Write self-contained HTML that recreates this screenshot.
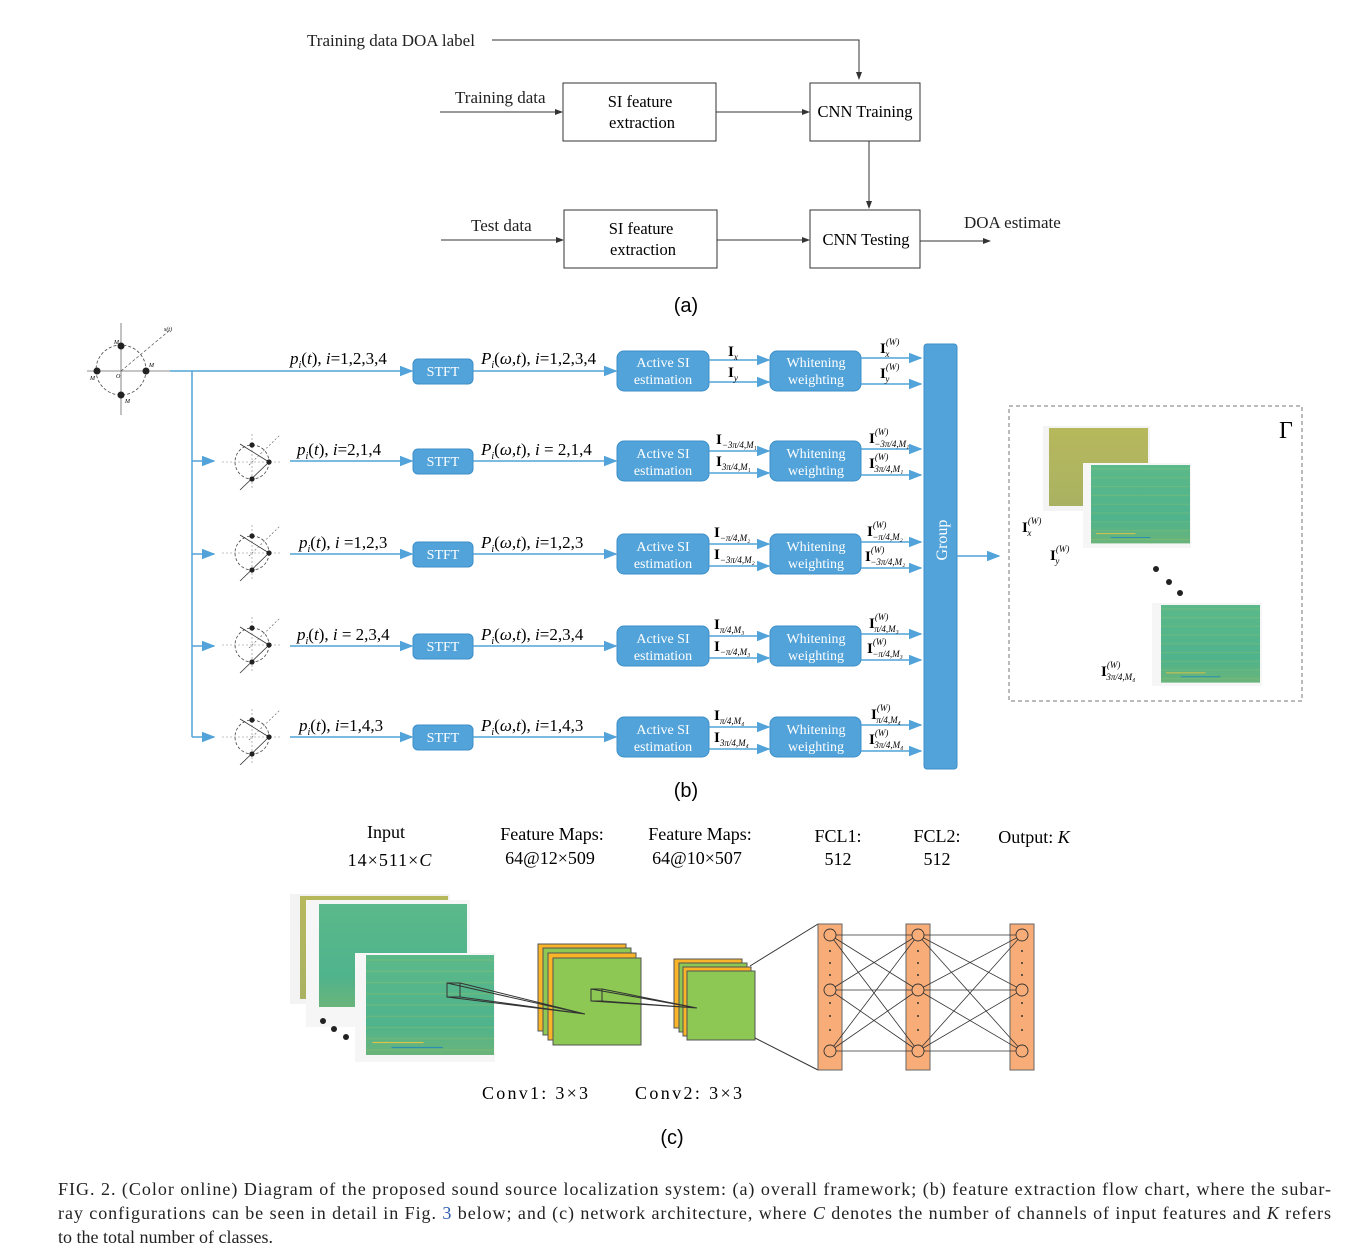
<!DOCTYPE html>
<html><head><meta charset="utf-8"><style>
body{margin:0;background:#fff}
svg{display:block;font-family:"Liberation Serif",serif}
.b{fill:#52a3d9;stroke:#3d8fc9;stroke-width:1}
.bt{fill:#fff;font-size:14px;text-anchor:middle}
.bl{stroke:#52a3d9;stroke-width:1.5;fill:none}
.k{stroke:#333;stroke-width:1;fill:none}
.it{font-style:italic}
</style></head><body>
<svg width="1361" height="1258" viewBox="0 0 1361 1258" xmlns="http://www.w3.org/2000/svg">
<defs>
<marker id="ak" markerWidth="8" markerHeight="6" refX="7" refY="3" orient="auto"><path d="M0,0L8,3L0,6z" fill="#333"/></marker>
<marker id="ab" markerWidth="9" markerHeight="7" refX="8" refY="3.5" orient="auto"><path d="M0,0L9,3.5L0,7z" fill="#52a3d9"/></marker>
<linearGradient id="gg" x1="0" y1="0" x2="0" y2="1"><stop offset="0" stop-color="#5bb98a"/><stop offset="0.7" stop-color="#4fb38c"/><stop offset="1" stop-color="#6ab47a"/></linearGradient>
<linearGradient id="gy" x1="0" y1="0" x2="0" y2="1"><stop offset="0" stop-color="#b7b85c"/><stop offset="1" stop-color="#a9b262"/></linearGradient>
<pattern id="st" width="6" height="9" patternUnits="userSpaceOnUse"><line x1="0" y1="4" x2="6" y2="4" stroke="#8fc06a" stroke-width="0.8" opacity="0.5"/></pattern>
<g id="arr">
<circle cx="0" cy="0" r="17" fill="none" stroke="#444" stroke-width="0.8" stroke-dasharray="3,2"/>
<line x1="-30" y1="0" x2="30" y2="0" stroke="#888" stroke-width="0.6" stroke-dasharray="2,2"/>
<line x1="0" y1="-28" x2="0" y2="28" stroke="#888" stroke-width="0.6" stroke-dasharray="2,2"/>
<line x1="-12" y1="-18" x2="17" y2="0" stroke="#333" stroke-width="0.8"/>
<line x1="17" y1="0" x2="-12" y2="28" stroke="#333" stroke-width="0.8"/>
<line x1="-3" y1="3" x2="28" y2="-27" stroke="#555" stroke-width="0.6" stroke-dasharray="2,2"/>
<circle cx="0" cy="-17" r="2.6" fill="#222"/><circle cx="17" cy="0" r="2.6" fill="#222"/><circle cx="0" cy="17" r="2.6" fill="#222"/>
</g>
<g id="spec">
<rect x="0" y="0" width="100" height="80" fill="url(#gg)"/>
<rect x="0" y="0" width="100" height="80" fill="url(#st)"/>
<line x1="5" y1="70" x2="45" y2="70" stroke="#d8c24a" stroke-width="1"/>
<line x1="20" y1="74" x2="60" y2="74" stroke="#2a8fb0" stroke-width="1"/>
</g>
</defs>

<!-- (a) -->
<g font-size="17" fill="#222">
<text x="307" y="46">Training data DOA label</text>
<text x="455" y="103">Training data</text>
<text x="471" y="231">Test data</text>
<text x="964" y="228">DOA estimate</text>
</g>
<path class="k" d="M492,40H859V79" marker-end="url(#ak)"/>
<rect x="563" y="83" width="153" height="58" fill="#fff" stroke="#333"/>
<text x="640" y="107" font-size="16.5" text-anchor="middle">SI feature</text>
<text x="642" y="128" font-size="16.5" text-anchor="middle">extraction</text>
<rect x="810" y="83" width="110" height="58" fill="#fff" stroke="#333"/>
<text x="865" y="117" font-size="16.5" text-anchor="middle">CNN Training</text>
<line class="k" x1="440" y1="112" x2="562" y2="112" marker-end="url(#ak)"/>
<line class="k" x1="716" y1="112" x2="809" y2="112" marker-end="url(#ak)"/>
<line class="k" x1="869" y1="141" x2="869" y2="208" marker-end="url(#ak)"/>
<rect x="564" y="210" width="153" height="58" fill="#fff" stroke="#333"/>
<text x="641" y="234" font-size="16.5" text-anchor="middle">SI feature</text>
<text x="643" y="255" font-size="16.5" text-anchor="middle">extraction</text>
<rect x="810" y="210" width="110" height="58" fill="#fff" stroke="#333"/>
<text x="866" y="245" font-size="16.5" text-anchor="middle">CNN Testing</text>
<line class="k" x1="441" y1="240" x2="563" y2="240" marker-end="url(#ak)"/>
<line class="k" x1="717" y1="240" x2="809" y2="240" marker-end="url(#ak)"/>
<line class="k" x1="920" y1="241" x2="990" y2="241" marker-end="url(#ak)"/>
<text x="686" y="312" font-size="20" font-family="Liberation Sans,sans-serif" text-anchor="middle">(a)</text>

<!-- (b) left array big -->
<g>
<circle cx="121" cy="370" r="25" fill="none" stroke="#444" stroke-width="0.8" stroke-dasharray="3,2"/>
<line x1="87" y1="371" x2="170" y2="371" stroke="#666" stroke-width="0.8"/>
<line x1="121" y1="323" x2="121" y2="415" stroke="#666" stroke-width="0.8"/>
<line x1="121" y1="371" x2="170" y2="330" stroke="#555" stroke-width="0.7" stroke-dasharray="3,2"/>
<circle cx="121" cy="346" r="3.5" fill="#222"/><circle cx="146" cy="371" r="3.5" fill="#222"/><circle cx="121" cy="395" r="3.5" fill="#222"/><circle cx="97" cy="371" r="3.5" fill="#222"/>
<text x="164" y="331" font-size="6" class="it">s(t)</text>
<text x="149" y="367" font-size="6" class="it">M</text>
<text x="114" y="344" font-size="6" class="it">M</text>
<text x="90" y="380" font-size="6" class="it">M</text>
<text x="125" y="403" font-size="6" class="it">M</text>
<text x="116" y="378" font-size="6" class="it">O</text>
</g>
<line class="bl" x1="170" y1="371" x2="412" y2="371" marker-end="url(#ab)"/>
<line class="bl" x1="192" y1="371" x2="192" y2="737"/>
<g>
<line class="bl" x1="192" y1="461" x2="214" y2="461" marker-end="url(#ab)"/>
<line class="bl" x1="192" y1="554" x2="214" y2="554" marker-end="url(#ab)"/>
<line class="bl" x1="192" y1="646" x2="214" y2="646" marker-end="url(#ab)"/>
<line class="bl" x1="192" y1="737" x2="214" y2="737" marker-end="url(#ab)"/>
</g>
<use href="#arr" x="252" y="462"/>
<use href="#arr" x="252" y="553"/>
<use href="#arr" x="252" y="645"/>
<use href="#arr" x="252" y="737"/>
<line class="bl" x1="290" y1="461" x2="412" y2="461" marker-end="url(#ab)"/>
<line class="bl" x1="290" y1="554" x2="412" y2="554" marker-end="url(#ab)"/>
<line class="bl" x1="290" y1="646" x2="412" y2="646" marker-end="url(#ab)"/>
<line class="bl" x1="290" y1="737" x2="412" y2="737" marker-end="url(#ab)"/>

<g font-size="17">
<text x="290" y="364"><tspan class="it">p</tspan><tspan font-size="10" dy="4" class="it">i</tspan><tspan dy="-4">(</tspan><tspan class="it">t</tspan>), <tspan class="it">i</tspan>=1,2,3,4</text>
<text x="297" y="455"><tspan class="it">p</tspan><tspan font-size="10" dy="4" class="it">i</tspan><tspan dy="-4">(</tspan><tspan class="it">t</tspan>), <tspan class="it">i</tspan>=2,1,4</text>
<text x="299" y="548"><tspan class="it">p</tspan><tspan font-size="10" dy="4" class="it">i</tspan><tspan dy="-4">(</tspan><tspan class="it">t</tspan>), <tspan class="it">i</tspan> =1,2,3</text>
<text x="297" y="640"><tspan class="it">p</tspan><tspan font-size="10" dy="4" class="it">i</tspan><tspan dy="-4">(</tspan><tspan class="it">t</tspan>), <tspan class="it">i</tspan> = 2,3,4</text>
<text x="299" y="731"><tspan class="it">p</tspan><tspan font-size="10" dy="4" class="it">i</tspan><tspan dy="-4">(</tspan><tspan class="it">t</tspan>), <tspan class="it">i</tspan>=1,4,3</text>
<text x="481" y="364"><tspan class="it">P</tspan><tspan font-size="10" dy="4" class="it">i</tspan><tspan dy="-4">(</tspan><tspan class="it">ω</tspan>,<tspan class="it">t</tspan>), <tspan class="it">i</tspan>=1,2,3,4</text>
<text x="481" y="455"><tspan class="it">P</tspan><tspan font-size="10" dy="4" class="it">i</tspan><tspan dy="-4">(</tspan><tspan class="it">ω</tspan>,<tspan class="it">t</tspan>), <tspan class="it">i</tspan> = 2,1,4</text>
<text x="481" y="548"><tspan class="it">P</tspan><tspan font-size="10" dy="4" class="it">i</tspan><tspan dy="-4">(</tspan><tspan class="it">ω</tspan>,<tspan class="it">t</tspan>), <tspan class="it">i</tspan>=1,2,3</text>
<text x="481" y="640"><tspan class="it">P</tspan><tspan font-size="10" dy="4" class="it">i</tspan><tspan dy="-4">(</tspan><tspan class="it">ω</tspan>,<tspan class="it">t</tspan>), <tspan class="it">i</tspan>=2,3,4</text>
<text x="481" y="731"><tspan class="it">P</tspan><tspan font-size="10" dy="4" class="it">i</tspan><tspan dy="-4">(</tspan><tspan class="it">ω</tspan>,<tspan class="it">t</tspan>), <tspan class="it">i</tspan>=1,4,3</text>
</g>

<g>
<rect class="b" x="413" y="359" width="60" height="25" rx="5"/><text class="bt" x="443" y="376">STFT</text>
<rect class="b" x="413" y="449" width="60" height="25" rx="5"/><text class="bt" x="443" y="466">STFT</text>
<rect class="b" x="413" y="542" width="60" height="25" rx="5"/><text class="bt" x="443" y="559">STFT</text>
<rect class="b" x="413" y="634" width="60" height="25" rx="5"/><text class="bt" x="443" y="651">STFT</text>
<rect class="b" x="413" y="725" width="60" height="25" rx="5"/><text class="bt" x="443" y="742">STFT</text>
</g>
<g>
<line class="bl" x1="473" y1="371" x2="616" y2="371" marker-end="url(#ab)"/>
<line class="bl" x1="473" y1="461" x2="616" y2="461" marker-end="url(#ab)"/>
<line class="bl" x1="473" y1="554" x2="616" y2="554" marker-end="url(#ab)"/>
<line class="bl" x1="473" y1="646" x2="616" y2="646" marker-end="url(#ab)"/>
<line class="bl" x1="473" y1="737" x2="616" y2="737" marker-end="url(#ab)"/>
</g>
<g>
<rect class="b" x="617" y="351" width="92" height="40" rx="7"/><text class="bt" x="663" y="367">Active SI</text><text class="bt" x="663" y="384">estimation</text>
<rect class="b" x="617" y="441" width="92" height="40" rx="7"/><text class="bt" x="663" y="458">Active SI</text><text class="bt" x="663" y="475">estimation</text>
<rect class="b" x="617" y="534" width="92" height="40" rx="7"/><text class="bt" x="663" y="551">Active SI</text><text class="bt" x="663" y="568">estimation</text>
<rect class="b" x="617" y="626" width="92" height="40" rx="7"/><text class="bt" x="663" y="643">Active SI</text><text class="bt" x="663" y="660">estimation</text>
<rect class="b" x="617" y="717" width="92" height="40" rx="7"/><text class="bt" x="663" y="734">Active SI</text><text class="bt" x="663" y="751">estimation</text>
<rect class="b" x="770" y="351" width="91" height="40" rx="7"/><text class="bt" x="816" y="367">Whitening</text><text class="bt" x="816" y="384">weighting</text>
<rect class="b" x="770" y="441" width="91" height="40" rx="7"/><text class="bt" x="816" y="458">Whitening</text><text class="bt" x="816" y="475">weighting</text>
<rect class="b" x="770" y="534" width="91" height="40" rx="7"/><text class="bt" x="816" y="551">Whitening</text><text class="bt" x="816" y="568">weighting</text>
<rect class="b" x="770" y="626" width="91" height="40" rx="7"/><text class="bt" x="816" y="643">Whitening</text><text class="bt" x="816" y="660">weighting</text>
<rect class="b" x="770" y="717" width="91" height="40" rx="7"/><text class="bt" x="816" y="734">Whitening</text><text class="bt" x="816" y="751">weighting</text>
</g>
<g>
<line class="bl" x1="709" y1="360" x2="769" y2="360" marker-end="url(#ab)"/><line class="bl" x1="709" y1="382" x2="769" y2="382" marker-end="url(#ab)"/>
<line class="bl" x1="709" y1="451" x2="769" y2="451" marker-end="url(#ab)"/><line class="bl" x1="709" y1="473" x2="769" y2="473" marker-end="url(#ab)"/>
<line class="bl" x1="709" y1="544" x2="769" y2="544" marker-end="url(#ab)"/><line class="bl" x1="709" y1="566" x2="769" y2="566" marker-end="url(#ab)"/>
<line class="bl" x1="709" y1="636" x2="769" y2="636" marker-end="url(#ab)"/><line class="bl" x1="709" y1="658" x2="769" y2="658" marker-end="url(#ab)"/>
<line class="bl" x1="709" y1="727" x2="769" y2="727" marker-end="url(#ab)"/><line class="bl" x1="709" y1="749" x2="769" y2="749" marker-end="url(#ab)"/>
<line class="bl" x1="861" y1="358" x2="921" y2="358" marker-end="url(#ab)"/><line class="bl" x1="861" y1="384" x2="921" y2="384" marker-end="url(#ab)"/>
<line class="bl" x1="861" y1="449" x2="921" y2="449" marker-end="url(#ab)"/><line class="bl" x1="861" y1="475" x2="921" y2="475" marker-end="url(#ab)"/>
<line class="bl" x1="861" y1="542" x2="921" y2="542" marker-end="url(#ab)"/><line class="bl" x1="861" y1="568" x2="921" y2="568" marker-end="url(#ab)"/>
<line class="bl" x1="861" y1="634" x2="921" y2="634" marker-end="url(#ab)"/><line class="bl" x1="861" y1="660" x2="921" y2="660" marker-end="url(#ab)"/>
<line class="bl" x1="861" y1="725" x2="921" y2="725" marker-end="url(#ab)"/><line class="bl" x1="861" y1="751" x2="921" y2="751" marker-end="url(#ab)"/>
</g>
<g font-size="15" font-weight="bold">
<text x="728" y="356">I<tspan font-size="9" font-weight="normal" class="it" dy="4">x</tspan></text>
<text x="728" y="377">I<tspan font-size="9" font-weight="normal" class="it" dy="4">y</tspan></text>
<text x="716" y="444">I<tspan font-size="9" font-weight="normal" class="it" dy="4">−3π/4,M₁</tspan></text>
<text x="716" y="466">I<tspan font-size="9" font-weight="normal" class="it" dy="4">3π/4,M₁</tspan></text>
<text x="714" y="537">I<tspan font-size="9" font-weight="normal" class="it" dy="4">−π/4,M₂</tspan></text>
<text x="714" y="559">I<tspan font-size="9" font-weight="normal" class="it" dy="4">−3π/4,M₂</tspan></text>
<text x="714" y="629">I<tspan font-size="9" font-weight="normal" class="it" dy="4">π/4,M₃</tspan></text>
<text x="714" y="651">I<tspan font-size="9" font-weight="normal" class="it" dy="4">−π/4,M₃</tspan></text>
<text x="714" y="720">I<tspan font-size="9" font-weight="normal" class="it" dy="4">π/4,M₄</tspan></text>
<text x="714" y="742">I<tspan font-size="9" font-weight="normal" class="it" dy="4">3π/4,M₄</tspan></text>
<text x="880" y="353">I<tspan font-size="9" font-weight="normal" class="it" dy="-8">(W)</tspan><tspan font-size="9" font-weight="normal" class="it" dx="-14" dy="12">x</tspan></text>
<text x="880" y="378">I<tspan font-size="9" font-weight="normal" class="it" dy="-8">(W)</tspan><tspan font-size="9" font-weight="normal" class="it" dx="-14" dy="12">y</tspan></text>
<text x="869" y="443">I<tspan font-size="9" font-weight="normal" class="it" dy="-8">(W)</tspan><tspan font-size="9" font-weight="normal" class="it" dx="-14" dy="12">−3π/4,M₁</tspan></text>
<text x="869" y="468">I<tspan font-size="9" font-weight="normal" class="it" dy="-8">(W)</tspan><tspan font-size="9" font-weight="normal" class="it" dx="-14" dy="12">3π/4,M₁</tspan></text>
<text x="867" y="536">I<tspan font-size="9" font-weight="normal" class="it" dy="-8">(W)</tspan><tspan font-size="9" font-weight="normal" class="it" dx="-14" dy="12">−π/4,M₂</tspan></text>
<text x="865" y="561">I<tspan font-size="9" font-weight="normal" class="it" dy="-8">(W)</tspan><tspan font-size="9" font-weight="normal" class="it" dx="-14" dy="12">−3π/4,M₂</tspan></text>
<text x="869" y="628">I<tspan font-size="9" font-weight="normal" class="it" dy="-8">(W)</tspan><tspan font-size="9" font-weight="normal" class="it" dx="-14" dy="12">π/4,M₃</tspan></text>
<text x="867" y="653">I<tspan font-size="9" font-weight="normal" class="it" dy="-8">(W)</tspan><tspan font-size="9" font-weight="normal" class="it" dx="-14" dy="12">−π/4,M₃</tspan></text>
<text x="871" y="719">I<tspan font-size="9" font-weight="normal" class="it" dy="-8">(W)</tspan><tspan font-size="9" font-weight="normal" class="it" dx="-14" dy="12">π/4,M₄</tspan></text>
<text x="869" y="744">I<tspan font-size="9" font-weight="normal" class="it" dy="-8">(W)</tspan><tspan font-size="9" font-weight="normal" class="it" dx="-14" dy="12">3π/4,M₄</tspan></text>
</g>
<rect x="924" y="344" width="33" height="425" rx="3" fill="#52a3d9" stroke="#3d8fc9"/>
<text x="947" y="540" fill="#fff" font-size="16" text-anchor="middle" transform="rotate(-90 947 540)">Group</text>
<line class="bl" x1="957" y1="556" x2="999" y2="556" marker-end="url(#ab)"/>
<rect x="1009" y="406" width="293" height="295" fill="none" stroke="#777" stroke-dasharray="4,3"/>
<text x="1279" y="438" font-size="24">Γ</text>
<g>
<rect x="1043" y="426" width="107" height="85" fill="#f4f4f4"/>
<rect x="1049" y="428" width="99" height="78" fill="url(#gy)"/>
<rect x="1083" y="463" width="108" height="85" fill="#f6f6f6"/>
<use href="#spec" transform="translate(1091,465) scale(0.99,0.98)"/>
<rect x="1152" y="603" width="110" height="83" fill="#f6f6f6"/>
<use href="#spec" transform="translate(1161,605) scale(0.99,0.97)"/>
<circle cx="1156" cy="569" r="3" fill="#222"/><circle cx="1169" cy="582" r="3" fill="#222"/><circle cx="1180" cy="593" r="3" fill="#222"/>
</g>
<g font-size="15" font-weight="bold">
<text x="1022" y="532">I<tspan font-size="9" font-weight="normal" class="it" dy="-8">(W)</tspan><tspan font-size="9" font-weight="normal" class="it" dx="-14" dy="12">x</tspan></text>
<text x="1050" y="560">I<tspan font-size="9" font-weight="normal" class="it" dy="-8">(W)</tspan><tspan font-size="9" font-weight="normal" class="it" dx="-14" dy="12">y</tspan></text>
<text x="1101" y="676">I<tspan font-size="9" font-weight="normal" class="it" dy="-8">(W)</tspan><tspan font-size="9" font-weight="normal" class="it" dx="-14" dy="12">3π/4,M₄</tspan></text>
</g>
<text x="686" y="797" font-size="20" font-family="Liberation Sans,sans-serif" text-anchor="middle">(b)</text>

<!-- (c) -->
<g font-size="18" text-anchor="middle">
<text x="386" y="838">Input</text>
<text x="390" y="866" letter-spacing="1">14×511×<tspan class="it">C</tspan></text>
<text x="552" y="840">Feature Maps:</text>
<text x="550" y="864">64@12×509</text>
<text x="700" y="840">Feature Maps:</text>
<text x="697" y="864">64@10×507</text>
<text x="838" y="842">FCL1:</text>
<text x="838" y="865">512</text>
<text x="937" y="842">FCL2:</text>
<text x="937" y="865">512</text>
<text x="1034" y="843">Output: <tspan class="it">K</tspan></text>
</g>
<g>
<rect x="290" y="894" width="160" height="110" fill="#f3f3f3"/>
<rect x="300" y="896" width="148" height="103" fill="url(#gy)"/>
<rect x="306" y="900" width="164" height="127" fill="#f6f6f6"/>
<rect x="319" y="904" width="148" height="103" fill="url(#gg)"/>
<rect x="355" y="953" width="140" height="109" fill="#f6f6f6"/>
<use href="#spec" transform="translate(366,955) scale(1.28,1.25)"/>
<circle cx="323" cy="1021" r="3" fill="#222"/><circle cx="334" cy="1029" r="3" fill="#222"/><circle cx="346" cy="1037" r="3" fill="#222"/>
</g>
<g stroke="#555" stroke-width="1">
<rect x="538" y="944" width="88" height="87" fill="#f9b428"/>
<rect x="543" y="948" width="88" height="87" fill="#8cc853"/>
<rect x="548" y="953" width="88" height="87" fill="#f9b428"/>
<rect x="553" y="958" width="88" height="87" fill="#8cc853"/>
<rect x="674" y="959" width="68" height="69" fill="#f9b428"/>
<rect x="679" y="963" width="68" height="69" fill="#8cc853"/>
<rect x="683" y="967" width="68" height="69" fill="#f9b428"/>
<rect x="687" y="971" width="68" height="69" fill="#8cc853"/>
</g>
<g stroke="#333" stroke-width="1" fill="none">
<rect x="447" y="983" width="13" height="14"/>
<path d="M447,983L585,1014M460,983L585,1014M447,997L585,1014M460,997L585,1014"/>
<rect x="591" y="989" width="11" height="12"/>
<path d="M591,989L697,1008M602,989L697,1008M591,1001L697,1008M602,1001L697,1008"/>
<path d="M750,966L818,924M755,1038L818,1070"/>
</g>
<g>
<rect x="818" y="924" width="24" height="146" fill="#f8ad78" stroke="#666"/>
<rect x="906" y="924" width="24" height="146" fill="#f8ad78" stroke="#666"/>
<rect x="1010" y="924" width="24" height="146" fill="#f8ad78" stroke="#666"/>
<g stroke="#333" stroke-width="0.8">
<path d="M830,935L918,935M830,935L918,990M830,935L918,1051M830,990L918,935M830,990L918,990M830,990L918,1051M830,1051L918,935M830,1051L918,990M830,1051L918,1051"/>
<path d="M918,935L1022,935M918,935L1022,990M918,935L1022,1051M918,990L1022,935M918,990L1022,990M918,990L1022,1051M918,1051L1022,935M918,1051L1022,990M918,1051L1022,1051"/>
</g>
<g fill="#f8ad78" stroke="#333" stroke-width="0.9">
<circle cx="830" cy="935" r="6"/><circle cx="830" cy="990" r="6"/><circle cx="830" cy="1051" r="6"/>
<circle cx="918" cy="935" r="6"/><circle cx="918" cy="990" r="6"/><circle cx="918" cy="1051" r="6"/>
<circle cx="1022" cy="935" r="6"/><circle cx="1022" cy="990" r="6"/><circle cx="1022" cy="1051" r="6"/>
</g>
<g fill="#333">
<circle cx="830" cy="951" r="1"/><circle cx="830" cy="963" r="1"/><circle cx="830" cy="975" r="1"/><circle cx="830" cy="1003" r="1"/><circle cx="830" cy="1016" r="1"/><circle cx="830" cy="1030" r="1"/>
<circle cx="918" cy="951" r="1"/><circle cx="918" cy="963" r="1"/><circle cx="918" cy="975" r="1"/><circle cx="918" cy="1003" r="1"/><circle cx="918" cy="1016" r="1"/><circle cx="918" cy="1030" r="1"/>
<circle cx="1022" cy="951" r="1"/><circle cx="1022" cy="963" r="1"/><circle cx="1022" cy="975" r="1"/><circle cx="1022" cy="1003" r="1"/><circle cx="1022" cy="1016" r="1"/><circle cx="1022" cy="1030" r="1"/>
</g>
</g>
<g font-size="18">
<text x="482" y="1099" textLength="106" lengthAdjust="spacing">Conv1:  3×3</text>
<text x="635" y="1099" textLength="107" lengthAdjust="spacing">Conv2:  3×3</text>
</g>
<text x="672" y="1144" font-size="20" font-family="Liberation Sans,sans-serif" text-anchor="middle">(c)</text>

<g font-size="18" fill="#222">
<text x="58" y="1195" textLength="1273" lengthAdjust="spacing">FIG. 2. (Color online) Diagram of the proposed sound source localization system: (a) overall framework; (b) feature extraction flow chart, where the subar-</text>
<text x="58" y="1219" textLength="1273" lengthAdjust="spacing">ray configurations can be seen in detail in Fig. <tspan fill="#2a5db0">3</tspan> below; and (c) network architecture, where <tspan class="it">C</tspan> denotes the number of channels of input features and <tspan class="it">K</tspan> refers</text>
<text x="58" y="1243">to the total number of classes.</text>
</g>
</svg>
</body></html>
